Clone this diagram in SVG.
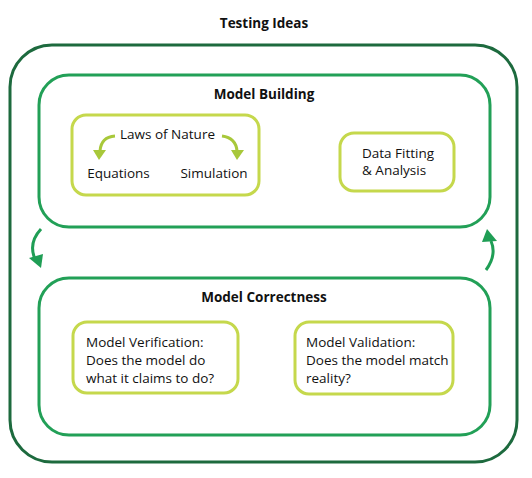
<svg xmlns="http://www.w3.org/2000/svg" width="532" height="478" viewBox="0 0 532 478">
<defs>
<style>
text{font-family:"Open Sans","Liberation Sans",sans-serif;fill:#111;}
.t{font-size:13.5px;font-weight:bold;text-anchor:middle;}
.b{font-size:13.5px;}
.c{text-anchor:middle;}
.outer{fill:none;stroke:#1d6a3e;stroke-width:3;}
.mid{fill:none;stroke:#22a057;stroke-width:3;}
.inner{fill:none;stroke:#c5d84c;stroke-width:3;}
.ga{fill:none;stroke:#1f9e55;stroke-width:3;}
.ya{fill:none;stroke:#a8c83a;stroke-width:3;}
</style>
</defs>
<rect width="532" height="478" fill="#fff"/>
<text class="t" x="264" y="28">Testing Ideas</text>
<g id="testing-ideas"><rect class="outer" x="10" y="45" width="507" height="417" rx="42"/></g>
<g id="model-building">
<rect class="mid" x="39" y="75" width="451" height="152" rx="30"/>
<text class="t" x="264" y="99">Model Building</text>
</g>
<g id="laws-of-nature">
<rect class="inner" x="72" y="115" width="187" height="80" rx="14"/>
<text class="b c" x="167.5" y="139">Laws of Nature</text>
<text class="b c" x="118.5" y="178">Equations</text>
<text class="b c" x="214" y="178">Simulation</text>
</g>
<g id="data-fitting">
<rect class="inner" x="340" y="133" width="114" height="58" rx="14"/>
<text class="b" x="362" y="158">Data Fitting</text>
<text class="b" x="362" y="175">&amp; Analysis</text>
</g>
<g id="model-correctness">
<rect class="mid" x="39" y="278" width="451" height="157" rx="30"/>
<text class="t" x="264" y="302">Model Correctness</text>
</g>
<g id="model-verification">
<rect class="inner" x="73" y="322" width="165" height="71" rx="14"/>
<text class="b" x="86" y="347">Model Verification:</text>
<text class="b" x="86" y="365">Does the model do</text>
<text class="b" x="86" y="383">what it claims to do?</text>
</g>
<g id="model-validation">
<rect class="inner" x="295" y="322" width="158" height="72" rx="14"/>
<text class="b" x="306" y="347">Model Validation:</text>
<text class="b" x="306" y="365">Does the model match</text>
<text class="b" x="306" y="383">reality?</text>
</g>
<g id="connectors">
<path class="ya" d="M115,136 Q101,137 100,151"/>
<polygon points="93,150 106,150 99,160" fill="#a8c83a"/>
<path class="ya" d="M222,136 Q236,138 237,151"/>
<polygon points="231,150 244,150 237,160" fill="#a8c83a"/>
<path class="ga" d="M41,229 Q28,243 35,259"/>
<polygon points="29,258 43,254 41,268" fill="#1f9e55"/>
<path class="ga" d="M486,270 Q497,255 491,241"/>
<polygon points="482,242 497,241 487,229" fill="#1f9e55"/>
</g>
</svg>
